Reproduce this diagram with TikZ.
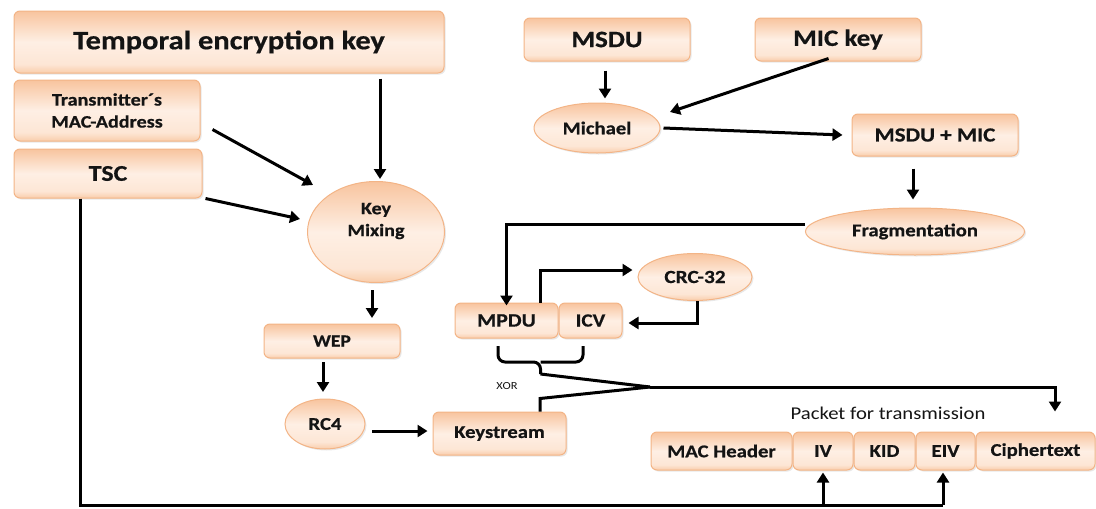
\documentclass[tikz,border=0pt]{standalone}
\usepackage{fontspec}
\setmainfont{Carlito}[FakeStretch=1.15, BoldFeatures={FakeBold=0.6}]
\usetikzlibrary{arrows.meta,shapes.geometric,shadows,calc}
\definecolor{pTop}{HTML}{F8C49E}
\definecolor{pMid}{HTML}{FEEFE4}
\definecolor{pMidB}{HTML}{FDE6D5}
\definecolor{pBot}{HTML}{F9CDAB}
\definecolor{pLine}{HTML}{F3B486}
\definecolor{txt}{HTML}{141414}
\pgfdeclareverticalshading{peach}{100bp}{color(0bp)=(pBot); color(25bp)=(pBot); color(32bp)=(pMidB); color(50bp)=(pMid); color(75bp)=(pTop); color(100bp)=(pTop)}
\tikzset{
  shade3/.style={shading=peach, draw=pLine, line width=1pt,
     drop shadow={opacity=0.18, shadow xshift=1.5pt, shadow yshift=-1.5pt}},
  box/.style={shade3, rectangle, rounded corners=6pt, inner sep=0pt, text=txt, font=\bfseries\fontsize{18}{20}\selectfont, align=center},
  ell/.style={shade3, ellipse, inner sep=0pt, text=txt, font=\bfseries\fontsize{18}{20}\selectfont, align=center},
  line/.style={line width=3pt, draw=black},
  arr/.style={line width=3pt, draw=black, -{Triangle[length=10pt,width=12pt]}},
}
\begin{document}
\begin{tikzpicture}[x=1pt,y=-1pt]
\useasboundingbox (0,0) rectangle (1096,509);
% left side
\node[box, minimum width=430pt, minimum height=62pt, font=\bfseries\fontsize{26.5}{28}\selectfont] (tek) at (229,42) {\raisebox{4pt}{Temporal encryption key}};
\node[box, minimum width=186pt, minimum height=61pt, font=\bfseries\fontsize{17.5}{22}\selectfont] (mac) at (107,110.5) {Transmitter´s\\MAC-Address};
\node[box, minimum width=188pt, minimum height=49pt, font=\bfseries\fontsize{22.5}{24}\selectfont] (tsc) at (108,173.5) {TSC};
\node[ell, minimum width=137pt, minimum height=101pt] (km) at (376,232) {};
\node[text=txt, font=\bfseries\fontsize{17.5}{22}\selectfont, align=center] (kmt) at ([yshift=11pt]km.center) {Key\\Mixing};
\node[box, minimum width=136pt, minimum height=34pt, font=\bfseries\fontsize{17}{19}\selectfont] (wep) at (332,341) {WEP};
\node[ell, minimum width=80pt, minimum height=50pt] (rc4) at (325,424) {RC4};
\node[box, minimum width=133pt, minimum height=43pt] (ks) at (499.5,433.5) {Keystream};
% right top
\node[box, minimum width=166pt, minimum height=43pt, font=\bfseries\fontsize{23.5}{25}\selectfont] (msdu) at (607,39.5) {MSDU};
\node[box, minimum width=166pt, minimum height=43pt, font=\bfseries\fontsize{23.5}{25}\selectfont] (mic) at (838,39.5) {MIC key};
\node[ell, minimum width=126pt, minimum height=50pt] (michael) at (597,128) {Michael};
\node[box, minimum width=166pt, minimum height=42pt, font=\bfseries\fontsize{20}{22}\selectfont] (msdumic) at (935,135) {MSDU + MIC};
\node[ell, minimum width=219pt, minimum height=47pt] (frag) at (915,231.5) {Fragmentation};
\node[ell, minimum width=114pt, minimum height=47pt, font=\bfseries\fontsize{18.5}{20}\selectfont] (crc) at (695,277) {CRC-32};
\node[box, minimum width=103pt, minimum height=35pt, font=\bfseries\fontsize{19}{21}\selectfont] (mpdu) at (506.5,320.5) {MPDU};
\node[box, minimum width=63pt, minimum height=35pt, font=\bfseries\fontsize{18.5}{20}\selectfont] (icv) at (590.5,320.5) {ICV};
% packet
\node[box, minimum width=141pt, minimum height=38pt] (mach) at (721.5,451) {MAC Header};
\node[box, minimum width=60pt, minimum height=38pt] (iv) at (823,451) {IV};
\node[box, minimum width=61pt, minimum height=38pt] (kid) at (884.5,451) {KID};
\node[box, minimum width=59pt, minimum height=38pt] (eiv) at (945.5,451) {EIV};
\node[box, minimum width=119pt, minimum height=38pt] (ct) at (1035.5,451) {Ciphertext};
\node[text=txt, font=\fontsize{18}{20}\selectfont] (pft) at (888,413) {Packet for transmission};
\node[text=txt, font=\fontsize{10.8}{12}\selectfont] (xor) at (507,386) {XOR};
% arrows left
\draw[arr] ([yshift=-5pt]tek.south -| kmt.north) ++(4,0) -- ([shift={(4,-2)}]km.north);
\draw[arr] ([shift={(12,19)}]mac.east) -- ([shift={(-63,-47)}]km.center);
\draw[arr] ([xshift=3pt]tsc.south east) -- ([shift={(-76,-13)}]km.center);
\draw[arr] ([shift={(-4,58)}]km.center) -- ([shift={(40,-23)}]wep.center);
\draw[arr] ([shift={(-9,21)}]wep.center) -- ([shift={(-2,-32)}]rc4.center);
\draw[arr] ([shift={(47,7)}]rc4.center) -- ([shift={(-5,-2.5)}]ks.west);
% arrows right
\draw[arr] ([shift={(-2,9)}]msdu.south) -- ([shift={(8,-4)}]michael.north);
\draw[arr] ([shift={(-93,19)}]mic.east) -- ([shift={(73,-16)}]michael.center);
\draw[arr] ([xshift=3pt]michael.east) -- ([xshift=-9pt]msdumic.west);
\draw[arr] ([shift={(-22,12)}]msdumic.south) -- ([shift={(-2,-8)}]frag.north);
\draw[arr] ([yshift=7.5pt]frag.west) -| ([yshift=-3pt]mpdu.north);
\draw[arr] ([xshift=33.5pt]mpdu.north) |- ([shift={(-5,-7)}]crc.west);
\draw[arr] ([shift={(2,0)}]crc.south) |- ([shift={(6,2.5)}]icv.east);
% brace and XOR
\coordinate (bl) at ([shift={(-8.5,7.5)}]mpdu.south);
\coordinate (br) at ([shift={(-7.5,7.5)}]icv.south);
\coordinate (bm) at ($(bl)!0.5!(br)+(0,16)$);
\coordinate (bt) at ($(bl)!0.5!(br)+(0,28)$);
\draw[line, rounded corners=7pt] (bl) -- (bl |- bm) -- (bm) -- (bt);
\draw[line, rounded corners=7pt] (br) -- (br |- bm) -- (bm);
\coordinate (xo) at (650,387);
\draw[line, line join=miter] (bt) -- (xo);
\draw[line, line join=miter] ([xshift=40.5pt]ks.north) -- ++(0,-13) -- (xo);
\draw[arr] (xo) -| ([shift={(19.5,-20)}]ct.north);
% TSC bottom line
\coordinate (bot) at (0,505);
\draw[line, line join=miter] ([xshift=-28pt]tsc.south) |- ([xshift=-2.5pt]eiv.south |- bot);
\draw[arr] (iv.south |- bot) -- ([yshift=-2pt]iv.south);
\draw[arr] ([xshift=-2.5pt]eiv.south |- bot) -- ([shift={(-2.5,2)}]eiv.south);
\end{tikzpicture}
\end{document}
